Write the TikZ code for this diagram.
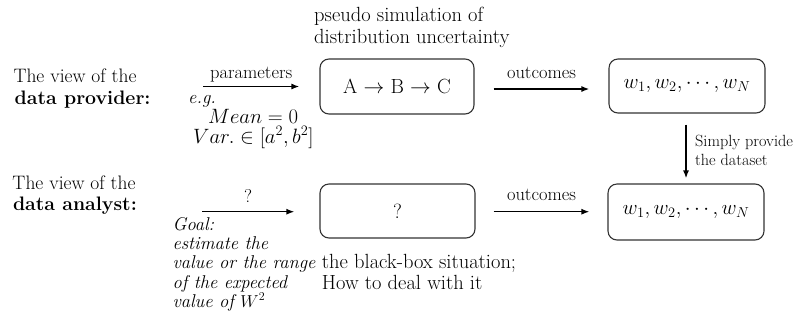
\documentclass[tikz,border=0pt]{standalone}
\usetikzlibrary{arrows.meta}
\newcommand\fbig{\fontsize{18.5}{22}\selectfont}
\newcommand\fcap{\fontsize{20.5}{24}\selectfont}
\newcommand\fview{\fontsize{19.5}{23}\selectfont}
\newcommand\fital{\fontsize{18.5}{21}\selectfont}
\newcommand\fsml{\fontsize{18}{21}\selectfont}
\newcommand\fmath{\fontsize{20.74}{24}\selectfont}
\newcommand\fmaths{\fontsize{19.5}{22}\selectfont}
\begin{document}
\begin{tikzpicture}[x=1pt,y=-1pt,
 txt/.style={inner sep=0pt, anchor=base west, font=\fcap},
 vtx/.style={inner sep=0pt, anchor=base west, font=\fview},
 itx/.style={inner sep=0pt, anchor=base west, font=\fital\itshape},
 mth/.style={inner sep=0pt, anchor=base west, font=\fmaths},
 sml/.style={inner sep=0pt, anchor=base west, font=\fsml},
 box/.style={draw=black!80, line width=1.1pt, rounded corners=9pt, minimum width=155pt, minimum height=54pt, inner sep=0pt, font=\fcap},
 arr/.style={-{Latex[length=8pt,width=6pt]}, line width=1.5pt},
 lab/.style={inner sep=0pt, anchor=base, font=\fbig}]
\useasboundingbox (0,0) rectangle (802,322);

% left labels
\node[vtx] (p1) at (13.3,82.7) {The view of the};
\node[vtx] (p2) at (14.5,104) {\bfseries data provider:};
\node[vtx] (a1) at (12.3,189.3) {The view of the};
\node[vtx] (a2) at (12.8,210) {\bfseries data analyst:};

% top caption
\node[txt] (t1) at (314,21.7) {pseudo simulation of};
\node[txt] (t2) at (314,43.3) {distribution uncertainty};

% boxes
\node[box, minimum width=154pt, minimum height=55pt] (b1) at (397,86.5) {A $\rightarrow$ B $\rightarrow$ C};
\node[box, minimum width=156pt, font=\fmath] (b2) at (687,86) {$w_1, w_2, \cdots, w_N$};
\node[box] (b3) at (397.5,211) {?};
\node[box, minimum width=156pt, minimum height=56pt, font=\fmath] (b4) at (686,212) {$w_1, w_2, \cdots, w_N$};

% row 1 connectors
\coordinate (pA) at (203,86.5);
\draw[arr] (pA) -- node[lab, yshift=8.5pt] (lpar) {parameters} ([xshift=-20pt]b1.west);
\draw[arr] ([xshift=19pt,yshift=-2.5pt]b1.east) -- node[lab, yshift=11pt] (lo1) {outcomes} ([xshift=-19pt,yshift=-3pt]b2.west);

% row 2 connectors
\coordinate (qA) at (202,211.7);
\draw[arr] (qA) -- node[lab, yshift=9pt] (lq) {?} ([xshift=-25pt,yshift=-0.7pt]b3.west);
\draw[arr] ([xshift=18pt,yshift=-0.7pt]b3.east) -- node[lab, yshift=11.7pt] (lo2) {outcomes} ([xshift=-18pt,yshift=0.3pt]b4.west);

% vertical connector
\draw[arr] ([xshift=-1pt,yshift=-11pt]b2.south) -- ([yshift=5pt]b4.north);
\begin{scope}[shift={(695,146.7)}, scale=0.9, transform shape]
\node[sml] (s1) at (0,0) {Simply provide};
\end{scope}
\begin{scope}[shift={(695,165)}, scale=0.9, transform shape]
\node[sml] (s2) at (0,0) {the dataset};
\end{scope}

% parameters example
\node[itx] (eg) at (188,103) {e.g.};
\node[mth] (mean) at (208,123.5) {$Mean = 0$};
\node[mth] (var) at (193,143) {$Var. \in [a^2, b^2]$};

% goal
\node[itx] (g1) at (172.3,230) {Goal:};
\node[itx] (g2) at (172.3,249) {estimate the};
\node[itx] (g3) at (172.3,268.3) {value or the range};
\node[itx] (g4) at (172.3,288) {of the expected};
\node[itx] (g5) at (172.3,307) {value of $W^2$};

% black box caption
\node[txt] (k1) at (321.7,268.3) {the black-box situation;};
\node[txt] (k2) at (321.7,289.3) {How to deal with it};
\end{tikzpicture}
\end{document}
